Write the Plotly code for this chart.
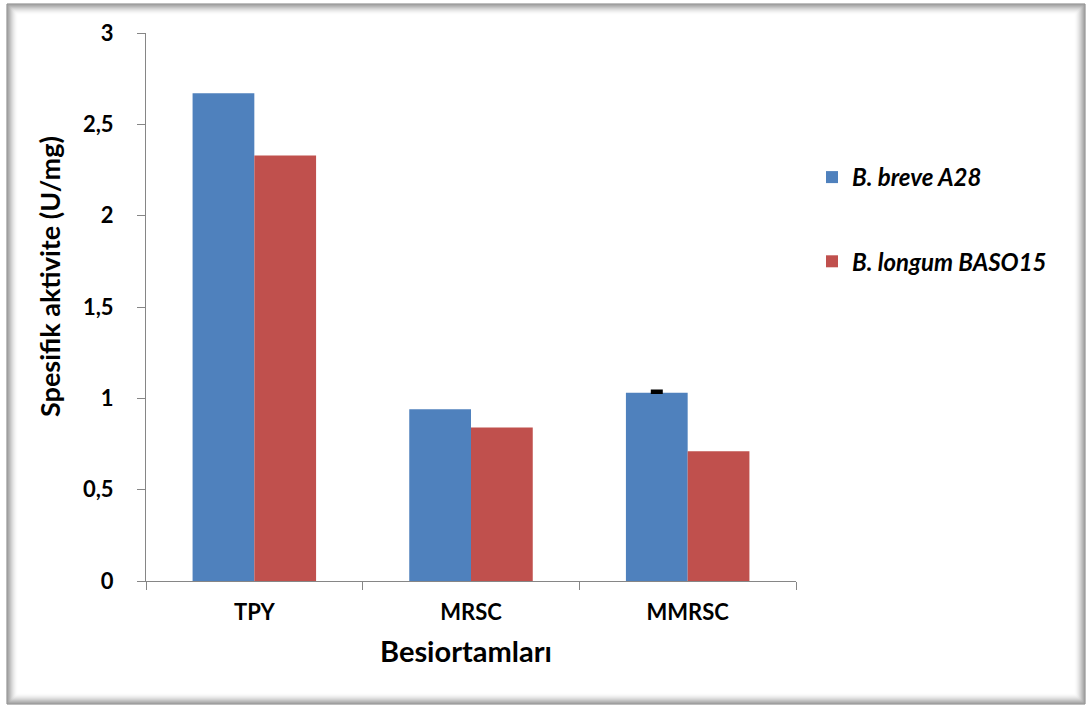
import plotly.graph_objects as go

# Data
categories = ["TPY", "MRSC", "MMRSC"]
breve_a28 = [2.67, 0.94, 1.03]
longum_baso15 = [2.33, 0.84, 0.71]
err_category = ["MMRSC"]
breve_err = [0.012]
y_ticks = [0, 0.5, 1, 1.5, 2, 2.5, 3]
y_tick_text = ["0", "0,5", "1", "1,5", "2", "2,5", "3"]

W, H = 1089, 708
FONT = "Lato"


def px(x):
    return x / W


def py(y):
    return 1 - y / H


fig = go.Figure()
fig.add_trace(go.Bar(
    x=categories, y=breve_a28, name="B. breve A28",
    marker=dict(color="#4F81BD", line=dict(width=0)),
    offsetgroup="a", legendgroup="a",
))
fig.add_trace(go.Bar(
    x=categories, y=longum_baso15, name="B. longum BASO15",
    marker=dict(color="#C0504D", line=dict(width=0)),
    offsetgroup="b", legendgroup="b",
))
# Error bar of the MMRSC B. breve bar, sharing that bar's slot
err_y = [breve_a28[categories.index(c)] for c in err_category]
fig.add_trace(go.Bar(
    x=err_category, y=err_y, showlegend=False, hoverinfo="skip",
    marker=dict(color="rgba(0,0,0,0)", line=dict(width=0)),
    error_y=dict(type="data", array=breve_err, arrayminus=[0],
                 symmetric=False, color="black", thickness=2.5, width=6),
    offsetgroup="a", legendgroup="a",
))

# Shadowed frame around the chart area
shapes = []
for i in range(11):
    a = 0.85 * (1 - i / 11) ** 1.8
    shapes.append(dict(
        type="rect", xref="paper", yref="paper",
        x0=px(7 + i), x1=px(1085 - i), y0=py(704 - i), y1=py(4 + i),
        line=dict(color=f"rgba(105,105,105,{a:.3f})", width=1),
        fillcolor="rgba(0,0,0,0)", layer="below",
    ))

fig.update_layout(
    width=W, height=H,
    margin=dict(l=0, r=0, t=0, b=0),
    paper_bgcolor="white", plot_bgcolor="white",
    barmode="group", bargap=0.43, bargroupgap=0,
    font=dict(family=FONT, color="black"),
    showlegend=True,
    legend=dict(
        x=px(812), y=py(155), xanchor="left", yanchor="top",
        font=dict(family=FONT, size=24, color="black", weight="bold", style="italic"),
        traceorder="grouped", tracegroupgap=50,
        bgcolor="rgba(0,0,0,0)",
    ),
    xaxis=dict(
        domain=[px(146), px(796)],
        automargin=False,
        showline=True, linecolor="#868686", linewidth=1,
        ticks="outside", ticklen=8, tickcolor="#868686", tickson="boundaries",
        ticklabelstandoff=12,
        tickfont=dict(family=FONT, size=22, weight="bold"),
        showgrid=False, zeroline=False,
    ),
    yaxis=dict(
        domain=[py(581), py(33)],
        automargin=False,
        range=[0, 3],
        tickvals=y_ticks, ticktext=y_tick_text,
        showline=True, linecolor="#868686", linewidth=1,
        ticks="outside", ticklen=8, tickcolor="#868686",
        ticklabelstandoff=19,
        tickfont=dict(family=FONT, size=22, weight="bold"),
        showgrid=False, zeroline=False,
    ),
    shapes=shapes,
    annotations=[
        dict(text="Spesifik aktivite (U/mg)", xref="paper", yref="paper",
             x=px(50), y=py(277), xanchor="center", yanchor="middle",
             textangle=-90, showarrow=False,
             font=dict(family=FONT, size=27, weight="bold")),
        dict(text="Besiortamları", xref="paper", yref="paper",
             x=px(466), y=py(650), xanchor="center", yanchor="middle",
             showarrow=False,
             font=dict(family=FONT, size=29, weight="bold")),
    ],
)

fig.write_html("out.html")
